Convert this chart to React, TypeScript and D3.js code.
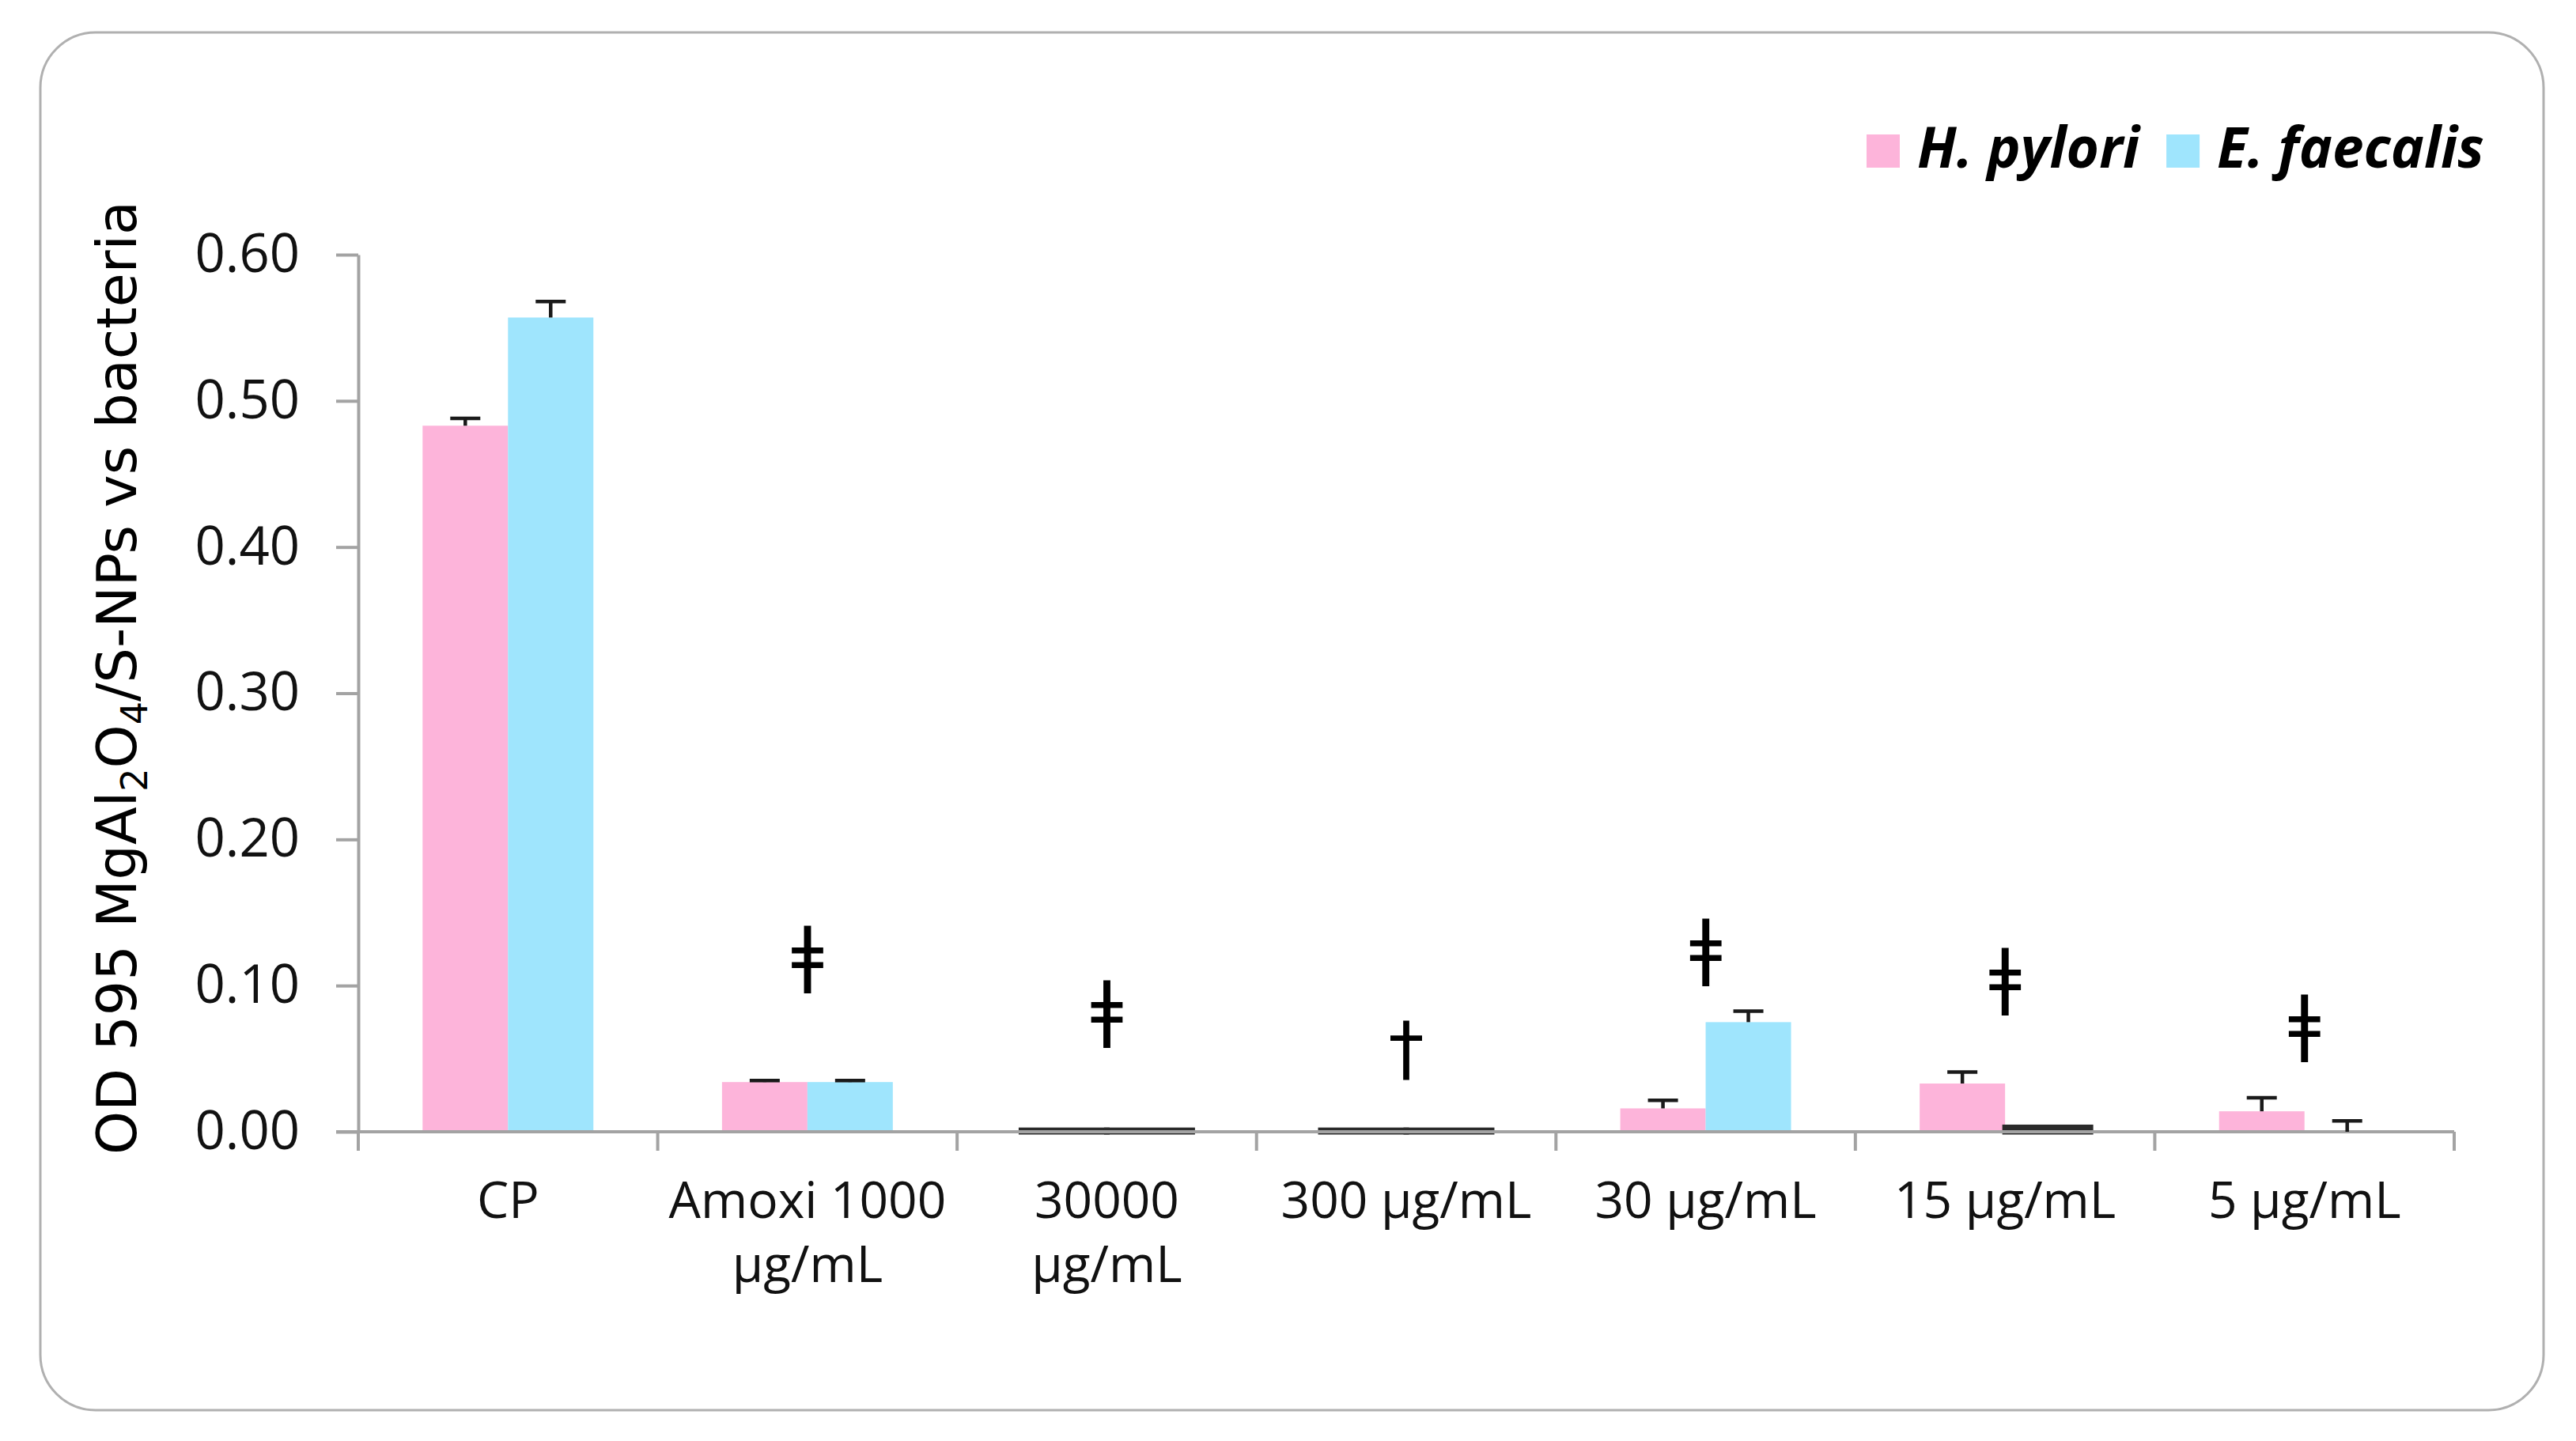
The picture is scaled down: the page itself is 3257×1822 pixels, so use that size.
import { useEffect, useRef } from 'react'
import * as d3 from 'd3'

// categories and their wrapped tick labels
const categories = ['CP', 'Amoxi 1000 µg/mL', '30000 µg/mL', '300 µg/mL', '30 µg/mL', '15 µg/mL', '5 µg/mL']
const categoryLines = [['CP'], ['Amoxi 1000', 'µg/mL'], ['30000', 'µg/mL'], ['300 µg/mL'], ['30 µg/mL'], ['15 µg/mL'], ['5 µg/mL']]

const seriesNames = ['H. pylori', 'E. faecalis']
const seriesColors = ['#fdb4da', '#9fe5fd']

// OD values
const hPylori = [0.483, 0.034, 0.001, 0.001, 0.016, 0.033, 0.014]
const hPyloriErr = [0.005, 0.001, 0, 0, 0.0055, 0.0078, 0.0092]
const eFaecalis = [0.557, 0.034, 0.001, 0.001, 0.075, 0.003, 0]
const eFaecalisErr = [0.011, 0.001, 0, 0, 0.0075, 0, 0.0074]

// significance marks (symbol and where its centre sits on the y scale)
const marks = ['', 'ǂ', 'ǂ', '†', 'ǂ', 'ǂ', 'ǂ']
const markLevels = [0, 0.118, 0.081, 0.053, 0.123, 0.103, 0.071]

const yTicks = [0, 0.1, 0.2, 0.3, 0.4, 0.5, 0.6]

const W = 3257
const H = 1822

export default function App() {
  const svgRef = useRef<SVGSVGElement>(null)

  useEffect(() => {
    if (!svgRef.current) return
    const svg = d3.select(svgRef.current)
    svg.selectAll('*').remove()

    const plot = { left: 453, right: 3103, top: 322, bottom: 1431 }
    const axisColor = '#a3a3a3'
    const labelFont = "'Open Sans', 'Noto Sans', sans-serif"

    // frame
    svg.append('rect')
      .attr('x', 51).attr('y', 41)
      .attr('width', 3216 - 51).attr('height', 1783 - 41)
      .attr('rx', 70).attr('ry', 70)
      .attr('fill', '#fff')
      .attr('stroke', '#b0b0b0')
      .attr('stroke-width', 3)

    const x = d3.scaleBand<string>()
      .domain(categories)
      .range([plot.left, plot.right])
      .padding(0)

    const xs = d3.scaleBand<string>()
      .domain(seriesNames)
      .range([0, x.bandwidth()])
      .paddingInner(0)
      .paddingOuter(0.753)

    const y = d3.scaleLinear()
      .domain([0, 0.6])
      .range([plot.bottom, plot.top])

    const values = [hPylori, eFaecalis]
    const errors = [hPyloriErr, eFaecalisErr]

    // bars
    const barLayer = svg.append('g')
    seriesNames.forEach((s, si) => {
      categories.forEach((c, ci) => {
        const v = values[si][ci]
        const x0 = x(c)! + xs(s)!
        const tiny = v > 0 && v < 0.005
        barLayer.append('rect')
          .attr('x', x0)
          .attr('y', y(v))
          .attr('width', xs.bandwidth())
          .attr('height', Math.max(0, y(0) - y(v)))
          .attr('fill', tiny ? '#2a2a2a' : seriesColors[si])
          .attr('stroke', tiny ? '#2a2a2a' : 'none')
          .attr('stroke-width', tiny ? 7 : 0)
      })
    })

    // y axis
    const yAxis = d3.axisLeft(y)
      .tickValues(yTicks)
      .tickFormat(d3.format('.2f'))
      .tickSize(28)
      .tickSizeOuter(0)
      .tickPadding(46)

    const gy = svg.append('g')
      .attr('transform', `translate(${plot.left},0)`)
      .call(yAxis)
    gy.select('.domain').attr('stroke', axisColor).attr('stroke-width', 4)
    gy.selectAll('.tick line').attr('stroke', axisColor).attr('stroke-width', 4)
    gy.selectAll('.tick text')
      .attr('fill', '#111')
      .style('font-family', labelFont)
      .style('font-size', '67px')

    // x axis line + boundary ticks
    const gx = svg.append('g')
    gx.append('line')
      .attr('x1', plot.left - 28).attr('x2', plot.right)
      .attr('y1', y(0)).attr('y2', y(0))
      .attr('stroke', axisColor).attr('stroke-width', 4)
    const bounds = categories.map(c => x(c)!).concat([plot.right])
    bounds.forEach(b => {
      gx.append('line')
        .attr('x1', b).attr('x2', b)
        .attr('y1', y(0)).attr('y2', y(0) + 24)
        .attr('stroke', axisColor).attr('stroke-width', 4)
    })

    // category labels
    categories.forEach((c, ci) => {
      const t = gx.append('text')
        .attr('x', x(c)! + x.bandwidth() / 2)
        .attr('y', 1540)
        .attr('text-anchor', 'middle')
        .attr('fill', '#111')
        .style('font-family', labelFont)
        .style('font-size', '64px')
      categoryLines[ci].forEach((line, li) => {
        t.append('tspan')
          .attr('x', x(c)! + x.bandwidth() / 2)
          .attr('dy', li === 0 ? 0 : 81)
          .text(line)
      })
    })

    // error bars
    const errLayer = svg.append('g')
    seriesNames.forEach((s, si) => {
      categories.forEach((c, ci) => {
        const v = values[si][ci]
        const e = errors[si][ci]
        if (e <= 0) return
        const cx = x(c)! + xs(s)! + xs.bandwidth() / 2
        errLayer.append('line')
          .attr('x1', cx).attr('x2', cx)
          .attr('y1', y(v)).attr('y2', y(v + e))
          .attr('stroke', '#1a1a1a').attr('stroke-width', 4.5)
        errLayer.append('line')
          .attr('x1', cx - 19).attr('x2', cx + 19)
          .attr('y1', y(v + e)).attr('y2', y(v + e))
          .attr('stroke', '#1a1a1a').attr('stroke-width', 4.5)
      })
    })

    // significance marks
    categories.forEach((c, ci) => {
      if (!marks[ci]) return
      svg.append('text')
        .attr('x', x(c)! + x.bandwidth() / 2)
        .attr('y', y(markLevels[ci]))
        .attr('dy', '0.27em')
        .attr('text-anchor', 'middle')
        .attr('fill', '#000')
        .style('font-family', "'DejaVu Sans', sans-serif")
        .style('font-size', '90px')
        .text(marks[ci])
    })

    // y axis title
    const title = svg.append('text')
      .attr('transform', 'translate(172,857) rotate(-90)')
      .attr('text-anchor', 'middle')
      .attr('fill', '#000')
      .style('font-family', "'DejaVu Sans', sans-serif")
      .style('font-size', '70px')
    title.append('tspan').text('OD 595 MgAl')
    title.append('tspan').attr('dy', 14).style('font-size', '46px').text('2')
    title.append('tspan').attr('dy', -14).text('O')
    title.append('tspan').attr('dy', 14).style('font-size', '46px').text('4')
    title.append('tspan').attr('dy', -14).text('/S-NPs vs bacteria')

    // legend
    const legend = svg.append('g')
    let lx = 2360
    seriesNames.forEach((s, si) => {
      legend.append('rect')
        .attr('x', lx).attr('y', 170)
        .attr('width', 42).attr('height', 42)
        .attr('fill', seriesColors[si])
      const t = legend.append('text')
        .attr('x', lx + 64)
        .attr('y', 212)
        .attr('fill', '#000')
        .style('font-family', labelFont)
        .style('font-size', '71px')
        .style('font-weight', 700)
        .style('font-style', 'italic')
        .text(s)
      const len = (t.node() as SVGTextElement).getComputedTextLength()
      lx += 64 + len + 34
    })
  }, [])

  return (
    <svg
      ref={svgRef}
      width={W}
      height={H}
      viewBox={`0 0 ${W} ${H}`}
      style={{ position: 'absolute', left: 0, top: 0, background: '#fff' }}
    />
  )
}
